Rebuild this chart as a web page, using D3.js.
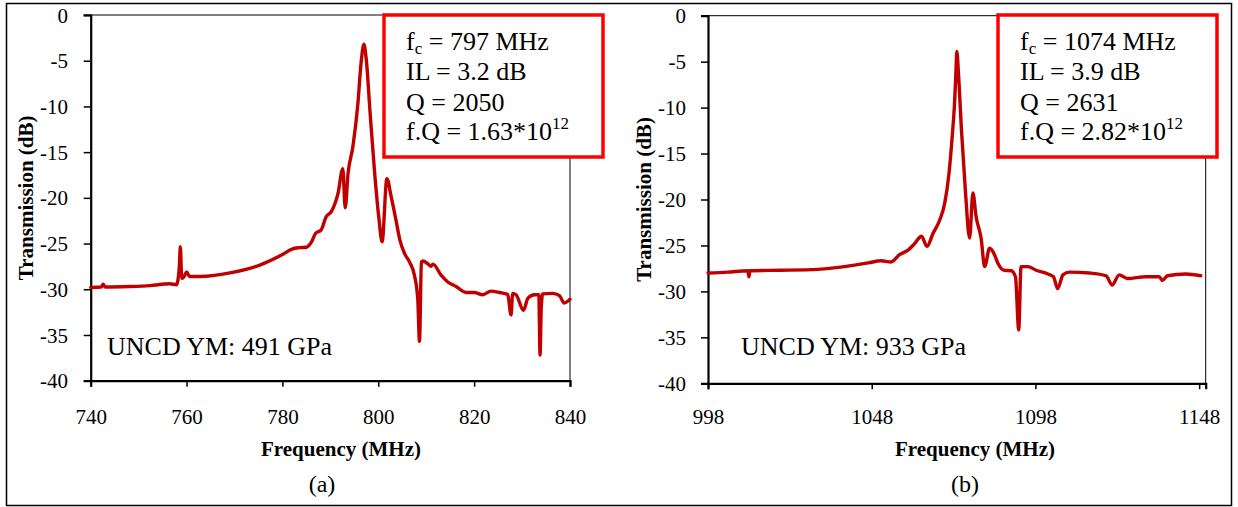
<!DOCTYPE html>
<html>
<head>
<meta charset="utf-8">
<script src="https://cdn.jsdelivr.net/npm/d3@7"></script>
<style>
  html, body { margin: 0; padding: 0; background: #fff; }
  svg { display: block; }
</style>
</head>
<body>
<svg id="chart" width="1238" height="507"></svg>
<script>
// Panel (a): UNCD resonator, 740–840 MHz sweep
const freqA = [740, 742.2, 742.6, 743.0, 748, 752.4, 756.5, 757.9, 758.5, 758.7, 759.0, 759.5, 760.0, 760.6,
  762.8, 769.6, 775.3, 780, 782, 783.5, 785, 786.1, 786.9, 788.1, 789.1, 790.2, 791.6, 792.6, 793.1, 793.7,
  794.7, 795.75, 796.4, 797.0, 797.5, 798.3, 799.2, 800.1, 800.8, 801.8, 802.7, 803.75, 804.5, 805.5, 806.5,
  807.6, 808.25, 808.6, 809.0, 809.3, 810.3, 811.0, 811.4, 813.1, 814.5, 816.25, 818.3, 820, 821.8, 823.5,
  825.3, 827.0, 827.7, 828.05, 828.75, 830.3, 831.2, 832.6, 833.5, 833.75, 834.0, 834.3, 836.4, 837.8, 838.8, 840];
const dbA = [-29.8, -29.75, -29.45, -29.75, -29.7, -29.6, -29.4, -29.5, -27.5, -25.35, -28.8, -28.6, -28.1, -28.6,
  -28.6, -28.15, -27.35, -26.2, -25.6, -25.45, -25.4, -24.8, -23.9, -23.5, -22.1, -21.5, -19.5, -16.8, -21.1, -17.3,
  -14.4, -9.66, -5.3, -3.2, -4.9, -10.75, -17.0, -22.1, -24.8, -17.9, -19.9, -22.6, -24.6, -26.1, -27.0,
  -28.6, -31.2, -35.7, -27.0, -26.9, -27.2, -27.5, -27.25, -28.45, -29.2, -29.7, -30.35, -30.35, -30.6, -30.2,
  -30.35, -30.56, -32.8, -30.45, -30.6, -32.3, -31.0, -30.6, -30.6, -37.2, -32.0, -30.5, -30.45, -30.7, -31.5, -31.1];

// Panel (b): UNCD resonator, 998–1150 MHz sweep
const freqB = [998, 1004, 1010.2, 1010.5, 1010.8, 1020, 1031.5, 1041.7, 1047, 1050.8, 1053.9, 1056.5, 1059.1,
  1061.1, 1063.2, 1064.9, 1066.7, 1068.8, 1070.3, 1071.6, 1072.5, 1073.3, 1073.7, 1074.0, 1074.5, 1075.4, 1076.6,
  1077.9, 1078.9, 1079.9, 1081.4, 1082.5, 1084, 1085.5, 1086.5, 1088.5, 1090.6, 1091.9, 1092.9, 1093.6, 1095.7,
  1098.2, 1101.8, 1103.5, 1104.8, 1106.4, 1108.4, 1114.5, 1119.6, 1121.4, 1123.6, 1126.1, 1131.7, 1135.8, 1136.8,
  1138.3, 1143.9, 1148.5];
const dbB = [-28.0, -27.9, -27.75, -28.4, -27.75, -27.7, -27.6, -27.2, -26.9, -26.66, -26.8, -26.0, -25.5,
  -24.8, -24.0, -25.1, -23.7, -22.2, -20.4, -17.15, -13.5, -9.5, -6.3, -3.9, -6.3, -12.4, -19.0,
  -24.2, -19.3, -21.9, -24.2, -27.3, -25.3, -26.0, -26.9, -27.7, -27.75, -28.4, -34.2, -27.3, -27.3,
  -27.7, -28.1, -28.4, -29.7, -28.2, -27.9, -28.0, -28.3, -29.3, -28.2, -28.6, -28.4, -28.4, -28.8,
  -28.3, -28.1, -28.3];

const yTicks = [0, -5, -10, -15, -20, -25, -30, -35, -40];
const xTicksA = [740, 760, 780, 800, 820, 840];
const xTicksB = [998, 1048, 1098, 1148];

const infoA = { fc: "797 MHz", il: "3.2 dB", q: "2050", fq: "1.63*10", exp: "12" };
const infoB = { fc: "1074 MHz", il: "3.9 dB", q: "2631", fq: "2.82*10", exp: "12" };

const SERIF = '"Liberation Serif", "Times New Roman", Times, serif';
const svg = d3.select("#chart");

// outer frame around both panels
svg.append("rect")
  .attr("x", 6.5).attr("y", 3.5).attr("width", 1225).attr("height", 502)
  .attr("fill", "none").attr("stroke", "#000").attr("stroke-width", 1.5);

function label(sel, size, weight) {
  return sel.style("font-family", SERIF).style("font-size", size + "px")
    .style("font-weight", weight || "normal").attr("fill", "#000");
}

function drawPanel(p) {
  const x = d3.scaleLinear().domain(p.xDomain).range([p.left, p.right]);
  const y = d3.scaleLinear().domain([-40, 0]).range([p.bottom, p.top]);
  const g = svg.append("g");

  // thin top and right plot borders
  g.append("line").attr("x1", p.left - 7).attr("x2", p.right).attr("y1", p.top).attr("y2", p.top)
    .attr("stroke", "#000").attr("stroke-width", 1);
  g.append("line").attr("x1", p.right).attr("x2", p.right).attr("y1", p.top).attr("y2", p.bottom)
    .attr("stroke", "#000").attr("stroke-width", 1);

  // y axis
  const ya = g.append("g").attr("transform", `translate(${p.left},0)`)
    .call(d3.axisLeft(y).tickValues(yTicks).tickSize(7).tickFormat(d => String(d)));
  ya.select(".domain").attr("stroke-width", 2.2);
  ya.selectAll(".tick line").attr("stroke-width", 1.5);
  label(ya.selectAll(".tick text"), 21).attr("x", p.yLabelX - p.left).attr("dy", "0.34em");

  // x axis
  const xa = g.append("g").attr("transform", `translate(0,${p.bottom})`)
    .call(d3.axisBottom(x).tickValues(p.xTicks).tickSize(6).tickFormat(d => String(d)));
  xa.select(".domain").attr("stroke-width", 2.2);
  xa.selectAll(".tick line").attr("stroke-width", 1.5);
  label(xa.selectAll(".tick text"), 21).attr("y", 424 - p.bottom).attr("dy", 0);

  // transmission trace
  const line = d3.line().x(d => x(d[0])).y(d => y(d[1])).curve(d3.curveMonotoneX);
  g.append("path")
    .datum(p.freq.map((f, i) => [f, p.db[i]]))
    .attr("d", line)
    .attr("fill", "none").attr("stroke", "#c00000").attr("stroke-width", 3.4)
    .attr("stroke-linejoin", "round").attr("stroke-linecap", "round");

  // axis titles
  label(g.append("text"), 21, "bold")
    .attr("transform", `translate(${p.yTitleX},${(p.top + p.bottom) / 2}) rotate(-90)`)
    .attr("text-anchor", "middle").attr("dy", "0.35em").text("Transmission (dB)");
  label(g.append("text"), 21, "bold").attr("x", p.xTitleX).attr("y", 456)
    .attr("text-anchor", "middle").text("Frequency (MHz)");

  // panel caption
  label(g.append("text"), 24).attr("x", p.captionX).attr("y", 492)
    .attr("text-anchor", "middle").text(p.caption);

  // Young's modulus note
  label(g.append("text"), 26).attr("x", p.noteX).attr("y", 355).text(p.note);

  // parameter box
  g.append("rect").attr("x", p.boxX).attr("y", 15).attr("width", 219).attr("height", 142)
    .attr("fill", "#fff").attr("stroke", "#ff0000").attr("stroke-width", 3.5);
  const tx = p.boxX + 22;
  const t1 = label(g.append("text"), 26).attr("x", tx).attr("y", 50);
  t1.append("tspan").text("f");
  t1.append("tspan").style("font-size", "17px").attr("dy", 4).text("c");
  t1.append("tspan").attr("dy", -4).text(" = " + p.info.fc);
  label(g.append("text"), 26).attr("x", tx).attr("y", 80).text("IL = " + p.info.il);
  label(g.append("text"), 26).attr("x", tx).attr("y", 111).text("Q = " + p.info.q);
  const t4 = label(g.append("text"), 26).attr("x", tx).attr("y", 140);
  t4.append("tspan").text("f.Q = " + p.info.fq);
  t4.append("tspan").style("font-size", "17px").attr("dy", -11).text(p.info.exp);
}

drawPanel({
  freq: freqA, db: dbA, xDomain: [740, 840], xTicks: xTicksA,
  left: 90.7, right: 570, top: 15, bottom: 380.7,
  yLabelX: 68, yTitleX: 26, xTitleX: 341, captionX: 322, caption: "(a)",
  noteX: 107, note: "UNCD YM: 491 GPa", boxX: 384, info: infoA
});

drawPanel({
  freq: freqB, db: dbB, xDomain: [998, 1150], xTicks: xTicksB,
  left: 708, right: 1205.7, top: 15.7, bottom: 383.3,
  yLabelX: 686, yTitleX: 644, xTitleX: 975, captionX: 965, caption: "(b)",
  noteX: 741, note: "UNCD YM: 933 GPa", boxX: 998, info: infoB
});
</script>
</body>
</html>
